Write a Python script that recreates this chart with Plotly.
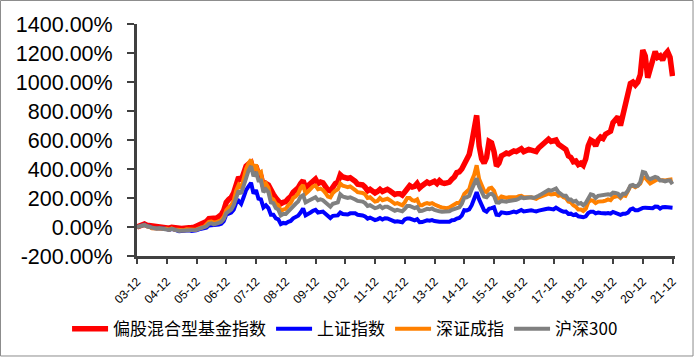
import plotly.graph_objects as go

# month index 0 = 2003-12 ... 216 = 2021-12
tick_labels = ["03-12", "04-12", "05-12", "06-12", "07-12", "08-12", "09-12", "10-12", "11-12",
               "12-12", "13-12", "14-12", "15-12", "16-12", "17-12", "18-12", "19-12", "20-12", "21-12"]

fund_index = [0,
    8, 15, 20, 12, 10, 2, 0, -2, 2, -3, 0, -5,
    -8, -2, -6, -8, -12, -10, -8, -4, -2, -4, -2, 4,
    12, 18, 22, 38, 58, 60, 55, 62, 72, 85, 115, 170,
    190, 205, 235, 300, 345, 320, 370, 420, 435, 445, 385, 420,
    360, 350, 280, 300, 290, 245, 225, 200, 185, 160, 170, 175,
    195, 210, 240, 255, 270, 300, 320, 270, 285, 310, 325, 330,
    300, 310, 305, 285, 255, 250, 280, 300, 310, 360, 345, 340,
    335, 340, 330, 315, 295, 295, 290, 275, 250, 260, 250, 235,
    245, 260, 245, 255, 260, 250, 235, 225, 230, 230, 220, 245,
    275, 285, 275, 280, 300, 270, 285, 300, 310, 300, 310, 315,
    300, 320, 305, 300, 305, 310, 330, 345, 375, 380, 400, 430,
    460, 500, 580, 690, 770, 560, 470, 440, 480, 590, 580, 520,
    420, 440, 490, 500, 510, 505, 520, 525, 520, 535, 540, 520,
    525, 535, 530, 520, 520, 545, 560, 580, 600, 605, 590, 600,
    600, 570, 560, 540, 535, 490, 480, 450, 455, 430, 440, 425,
    470, 560, 600, 590, 560, 600, 620, 610, 640, 650, 660, 720,
    740, 760, 700, 780, 820, 920, 990, 1000, 980, 1000, 1050, 1220,
    1180, 1030, 1080, 1150, 1210, 1170, 1180, 1150, 1190, 1210, 1170, 1040]

sse_index = [0,
    6, 12, 16, 7, 4, -7, -7, -10, -7, -12, -10, -15,
    -20, -13, -21, -23, -29, -28, -28, -22, -23, -27, -27, -22,
    -16, -13, -13, -4, 10, 12, 8, 11, 17, 23, 40, 85,
    92, 100, 120, 165, 180, 160, 205, 255, 280, 305, 230, 255,
    195, 190, 135, 150, 130, 85, 85, 60, 53, 20, 28, 25,
    36, 42, 60, 66, 78, 100, 128, 80, 88, 100, 112, 118,
    100, 104, 106, 92, 75, 62, 77, 78, 80, 100, 90, 88,
    86, 94, 96, 94, 84, 85, 80, 72, 58, 65, 57, 48,
    53, 62, 52, 60, 59, 50, 41, 37, 40, 38, 33, 52,
    59, 58, 50, 46, 54, 33, 34, 40, 46, 43, 48, 41,
    36, 37, 36, 35, 36, 37, 47, 48, 58, 62, 79, 116,
    114, 121, 150, 200, 240, 190, 150, 115, 105, 126, 130, 136,
    85, 82, 101, 96, 95, 96, 99, 106, 101, 107, 117, 107,
    111, 117, 115, 111, 108, 113, 119, 125, 124, 127, 122, 121,
    133, 118, 112, 106, 107, 90, 92, 82, 88, 74, 73, 67,
    73, 96, 106, 106, 94, 99, 96, 93, 94, 96, 92, 104,
    99, 92, 84, 91, 91, 99, 121, 127, 115, 115, 127, 132,
    133, 134, 130, 130, 141, 140, 127, 137, 138, 137, 135, 133]

szse_index = [0,
    5, 12, 15, 5, 2, -8, -8, -12, -8, -12, -9, -12,
    -18, -10, -18, -18, -22, -21, -22, -15, -17, -20, -19, -17,
    -8, -3, 0, 15, 35, 38, 30, 32, 40, 48, 70, 115,
    135, 150, 180, 250, 290, 270, 330, 400, 440, 465, 390, 430,
    370, 380, 280, 300, 270, 200, 190, 160, 150, 110, 120, 125,
    150, 165, 200, 210, 230, 270, 290, 230, 245, 260, 280, 285,
    260, 265, 255, 235, 210, 205, 235, 250, 260, 300, 285, 280,
    275, 280, 270, 255, 240, 240, 235, 225, 200, 205, 190, 175,
    180, 200, 185, 190, 195, 185, 170, 160, 165, 160, 150, 170,
    200, 200, 185, 180, 190, 150, 150, 160, 165, 160, 165, 155,
    145, 140, 135, 132, 130, 135, 145, 150, 165, 165, 190, 228,
    240, 260, 320, 360, 425, 330, 290, 250, 240, 265, 270, 250,
    200, 195, 210, 205, 200, 205, 205, 210, 205, 212, 215, 205,
    205, 210, 205, 200, 195, 205, 210, 215, 225, 230, 225, 225,
    230, 215, 220, 205, 200, 175, 170, 150, 140, 120, 120, 110,
    125, 170, 185, 180, 165, 175, 175, 178, 182, 190, 185, 205,
    210, 215, 200, 220, 215, 250, 280, 285, 275, 285, 300, 340,
    340, 320, 300, 310, 320, 330, 325, 320, 320, 325, 330, 330]

csi300_index = [0,
    5, 10, 13, 4, 1, -9, -9, -12, -9, -13, -11, -15,
    -20, -13, -20, -21, -27, -26, -26, -20, -21, -24, -24, -20,
    -12, -8, -6, 5, 22, 25, 18, 20, 28, 35, 55, 95,
    110, 120, 150, 210, 250, 230, 290, 350, 390, 420, 350, 380,
    320, 320, 240, 260, 240, 170, 165, 130, 120, 80, 90, 90,
    110, 120, 150, 160, 175, 210, 220, 170, 180, 190, 200, 205,
    185, 190, 185, 170, 150, 140, 160, 165, 170, 225, 210, 205,
    200, 205, 200, 190, 180, 180, 175, 165, 145, 150, 140, 130,
    135, 145, 130, 140, 140, 130, 120, 112, 118, 115, 108, 125,
    145, 145, 135, 130, 138, 110, 112, 120, 125, 122, 128, 118,
    110, 108, 105, 105, 105, 108, 118, 122, 133, 135, 160, 202,
    205, 215, 260, 300, 335, 280, 240, 210, 205, 225, 230, 215,
    170, 168, 180, 178, 175, 180, 182, 190, 188, 195, 205, 198,
    200, 205, 205, 200, 205, 215, 225, 235, 245, 255, 250, 255,
    265, 240, 225, 215, 215, 190, 190, 175, 180, 160, 165, 150,
    165, 200, 225, 220, 200, 215, 218, 215, 220, 225, 222, 237,
    235, 230, 210, 230, 230, 250, 285, 290, 280, 285, 310, 380,
    375, 340, 330, 335, 345, 340, 320, 320, 315, 320, 320, 295]

series_names = ["偏股混合型基金指数", "上证指数", "深证成指", "沪深300"]
series_values = [fund_index, sse_index, szse_index, csi300_index]
series_colors = ["#FF0000", "#0000FF", "#FF8000", "#808080"]
series_widths = [5.5, 4, 4, 4]

months = list(range(len(fund_index)))

fig = go.Figure()
for name, vals, col, w in zip(series_names, series_values, series_colors, series_widths):
    fig.add_trace(go.Scatter(x=months, y=vals, mode="lines", name=name,
                             line=dict(color=col, width=w)))

fig.update_layout(
    width=694, height=357,
    margin=dict(l=137, r=19, t=24, b=101, autoexpand=False),
    paper_bgcolor="white", plot_bgcolor="white",
    font=dict(family="Liberation Sans, Arial, sans-serif", color="black"),
    showlegend=True,
    legend=dict(orientation="h", x=-0.13, xanchor="left", y=-0.315, yanchor="middle",
                font=dict(family="Noto Sans CJK SC, sans-serif", size=17, color="black"),
                itemwidth=36, tracegroupgap=0, bgcolor="rgba(0,0,0,0)"),
    xaxis=dict(range=[0, 217], tickmode="array", automargin=False,
               tickvals=[12 * i for i in range(len(tick_labels))], ticktext=tick_labels,
               tickangle=-45, tickfont=dict(size=12), showgrid=False, zeroline=False,
               showline=True, linecolor="#404040", linewidth=3,
               ticks="outside", ticklen=5, tickwidth=2, tickcolor="#404040",
               ticklabelstandoff=6),
    yaxis=dict(range=[-200, 1400], tickmode="array", automargin=False,
               tickvals=[-200, 0, 200, 400, 600, 800, 1000, 1200, 1400],
               ticktext=["-200.00%", "0.00%", "200.00%", "400.00%", "600.00%", "800.00%",
                         "1000.00%", "1200.00%", "1400.00%"],
               tickfont=dict(size=21.5), showgrid=False, zeroline=False,
               showline=True, linecolor="#404040", linewidth=3,
               ticks="outside", ticklen=7, tickwidth=2, tickcolor="#404040",
               ticklabelstandoff=10),
)

fig.add_shape(type="rect", xref="paper", yref="paper",
              x0=-0.2537, x1=1.0335, y0=-0.431, y1=1.1013,
              line=dict(color="#8C8C8C", width=1), fillcolor="rgba(0,0,0,0)", layer="below")

fig.write_html("out.html", config={"displayModeBar": False},
               post_script="document.body.style.margin='0';document.body.style.padding='0';")
